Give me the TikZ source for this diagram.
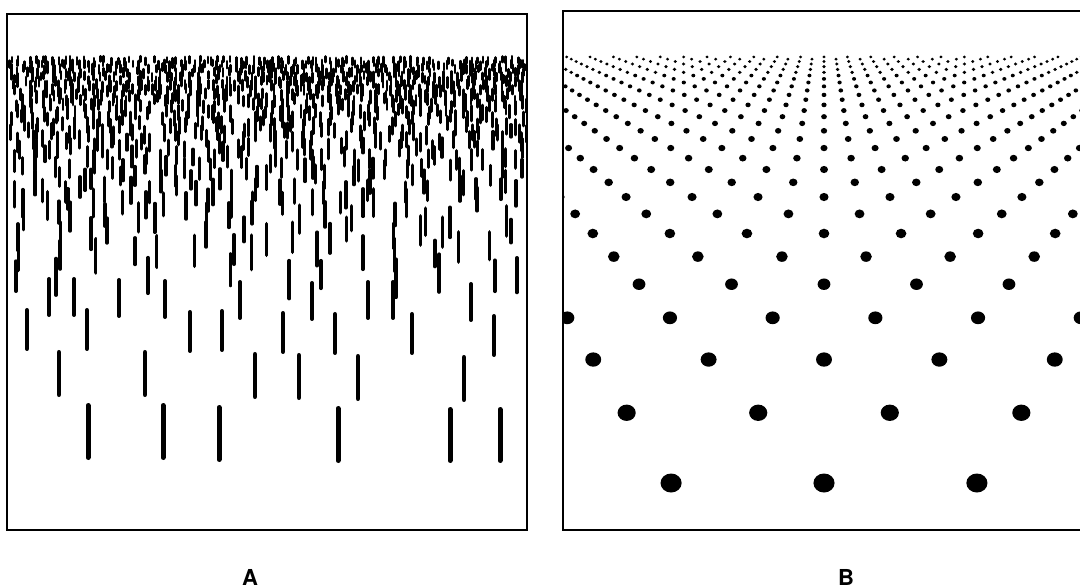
\documentclass[tikz,border=0pt]{standalone}
\usepackage{fontspec}
\setsansfont{TeX Gyre Heros}

\begin{document}
\begin{tikzpicture}[
    x=1pt, y=-1pt,
    panel/.style={line width=2pt, line join=miter},
    bar/.style={line cap=round, draw=black},
    dot/.style={fill=black},
    lbl/.style={font=\sffamily\bfseries\fontsize{22}{22}\selectfont, inner sep=0pt}
]
    \useasboundingbox (0,0) rectangle (1080,588);

    % Panel A: nearest bars, placed one by one
    \foreach \bx/\by/\barl/\barw in {
        88/403/57/5, 163/403/57/5, 219/405/57/5, 338/406/57/5, 450/407/56/5, 500/407/56/5,
        59/350/47/4.6, 145/350/47/4.6, 255/352/47/4.6, 299/353/47/4.6, 358/354/47/4.6, 464/355/47/4.6,
        27/308/43/4.4, 87/308/43/4.4, 190/310/43/4.4, 222/309/43/4.4, 283/311/43/4.4, 335/312/43/4.4, 412/312/43/4.4, 494/314/43/4.4,
        49/277/40/4.2, 74/277/40/4.2, 119/278/40/4.2, 165/279/40/4.2, 240/280/40/4.2, 312/281/40/4.2, 368/280/40/4.2, 393/280/40/4.2, 471/282/40/4.2}
        \draw[bar, line width=\barw pt] (\bx,\by+0.5*\barw) -- ++(0,\barl-\barw);

    % Panel A: farther rows of bars, thrown at random
    \begin{scope}
        \clip (8,15) rectangle (526,529);
        \pgfmathsetseed{4711}
        \xdef\rowt{254}
        \foreach \i in {1,...,90} {
            \ifdim\rowt pt>55pt
                \pgfmathsetmacro\rel{(\rowt-52)/351}
                \pgfmathsetmacro\spc{5.8+74*\rel^1.5}
                \pgfmathsetmacro\dy{3.5+0.48*(\spc-5.8)}
                \pgfmathsetmacro\barlen{9+0.139*(\rowt-57)}
                \pgfmathsetmacro\barw{2.6+2.2*\rel}
                \pgfmathtruncatemacro\nb{518/\spc}
                \foreach \k in {0,...,\nb} {
                    \pgfmathsetmacro\keep{rnd}
                    \ifdim\keep pt>0.15pt
                        \pgfmathsetmacro\bx{9+(\k+0.1+0.8*rnd)*\spc}
                        \pgfmathsetmacro\by{\rowt+(rnd-0.5)*0.6*\dy}
                        \pgfmathsetmacro\barl{\barlen*(0.85+0.3*rnd)}
                        \draw[bar, line width=\barw pt] (\bx,\by+0.5*\barw) -- ++(0,\barl-\barw);
                    \fi
                }
                \pgfmathsetmacro\nextt{\rowt-\dy}
                \xdef\rowt{\nextt}
            \fi
        }
    \end{scope}

    % Panel B: dot lattice in perspective
    \begin{scope}
        \clip (564,12) rectangle (1080,529);
        \foreach \k in {0,...,32} {
            \pgfmathsetmacro\dep{1000/(1.988+0.322*\k+0.00068*\k*\k)}
            \pgfmathsetmacro\ry{\dep-20}
            \pgfmathsetmacro\spc{0.304*\dep}
            \pgfmathsetmacro\rowoff{0.5*mod(\k,2)}
            \pgfmathsetmacro\dotr{0.021*\dep}
            \pgfmathtruncatemacro\nc{280/\spc+1}
            \foreach \j in {-\nc,...,\nc} {
                \fill[dot] ({824+(\j+\rowoff)*\spc},\ry) ellipse [x radius=\dotr pt, y radius=0.9*\dotr pt];
            }
        }
    \end{scope}

    % Frames
    \draw[panel] (7,14) rectangle (527,530);
    \draw[panel] (563,11) rectangle (1090,530);

    % Names
    \node[lbl] (labA) at (250,577) {A};
    \node[lbl] (labB) at (846,577) {B};
\end{tikzpicture}
\end{document}
